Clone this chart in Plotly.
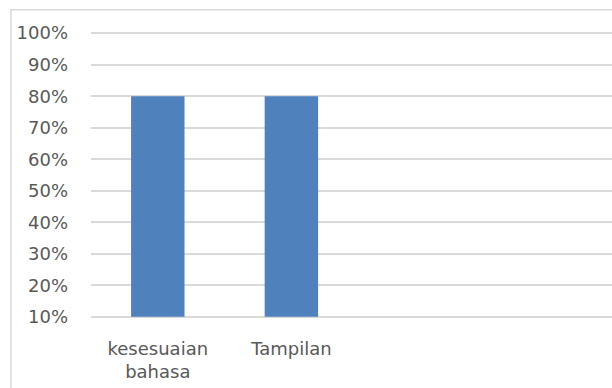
import plotly.graph_objects as go

categories = ["kesesuaian<br>bahasa", "Tampilan"]
values = [0.80, 0.80]
axis_min = 0.1
y_ticks = [0.1, 0.2, 0.3, 0.4, 0.5, 0.6, 0.7, 0.8, 0.9, 1.0]
y_labels = ["10%", "20%", "30%", "40%", "50%", "60%", "70%", "80%", "90%", "100%"]

x_pos = list(range(len(categories)))

fig = go.Figure()
fig.add_trace(go.Bar(
    x=x_pos, y=[v - axis_min for v in values], base=axis_min, width=0.40,
    marker=dict(color="#4f81bd", line=dict(width=0)),
))

font = dict(family="DejaVu Sans", size=18, color="#595959")

fig.update_layout(
    width=612, height=388,
    margin=dict(l=91, r=0, t=30, b=68),
    paper_bgcolor="white", plot_bgcolor="white",
    showlegend=False,
    font=font,
    xaxis=dict(
        range=[-0.5, 3.40],
        tickvals=x_pos, ticktext=categories,
        showgrid=False, zeroline=False, showline=False,
        ticks="", ticklabelstandoff=16,
        tickfont=font,
    ),
    yaxis=dict(
        range=[0.09, 1.01],
        tickvals=y_ticks, ticktext=y_labels,
        showgrid=True, gridcolor="#d9d9d9", gridwidth=1.5,
        zeroline=False, showline=False,
        ticks="", ticklabelstandoff=22,
        tickfont=font,
    ),
    shapes=[dict(
        type="rect", xref="paper", yref="paper",
        x0=-0.1536, x1=1.1, y0=-0.5, y1=1.07,
        line=dict(color="#d9d9d9", width=1.5),
        fillcolor="rgba(0,0,0,0)", layer="below",
    )],
)

fig.write_html("out.html")
